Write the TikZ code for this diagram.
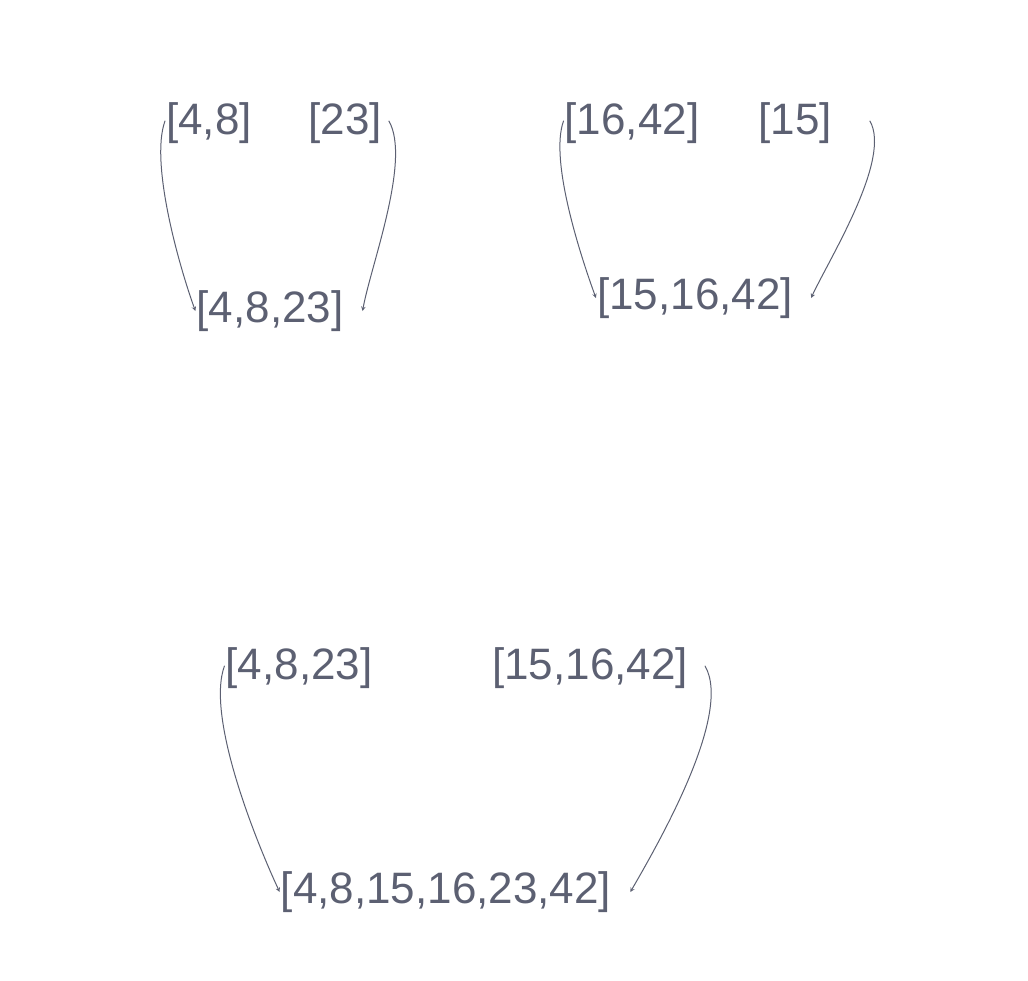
\documentclass[tikz,border=0pt]{standalone}
\usepackage{fontspec}
\setmainfont{Liberation Sans}
\definecolor{slate}{HTML}{5C6072}
\begin{document}
\begin{tikzpicture}[x=1pt, y=-1pt, line join=round, line cap=round, >=stealth]
			\tikzset{every node/.style={text=slate, inner sep=1pt, font=\fontsize{44}{52}\selectfont}}
			\tikzset{merge/.style={->, draw=slate, line width=1pt, looseness=0.6}}
			\useasboundingbox (0,0) rectangle (1028,980);
			% first merge
			\node (a) at (209,123) {[4,8]};
			\node (b) at (345,123) {[23]};
			\node (ab) at (270,311) {[4,8,23]};
			\draw[merge] ([yshift=2pt]a.west) to[out=250, in=110] (ab.west);
			\draw[merge] ([xshift=6pt,yshift=2pt]b.east) to[out=-60, in=80] ([xshift=18pt]ab.east);
			% second merge
			\node (c) at (632,123) {[16,42]};
			\node (d) at (795,123) {[15]};
			\node (cd) at (695,298) {[15,16,42]};
			\draw[merge] ([yshift=2pt]c.west) to[out=250, in=110] (cd.west);
			\draw[merge] ([xshift=37pt,yshift=2pt]d.east) to[out=-60, in=65] ([xshift=17pt]cd.east);
			% final merge
			\node (l) at (299,668) {[4,8,23]};
			\node (r) at (590,668) {[15,16,42]};
			\node (lr) at (446,892) {[4,8,15,16,23,42]};
			\draw[merge] ([yshift=2pt]l.west) to[out=250, in=115] (lr.west);
			\draw[merge] ([xshift=16pt,yshift=2pt]r.east) to[out=-60, in=60] ([xshift=18pt]lr.east);
		\end{tikzpicture}
\end{document}
